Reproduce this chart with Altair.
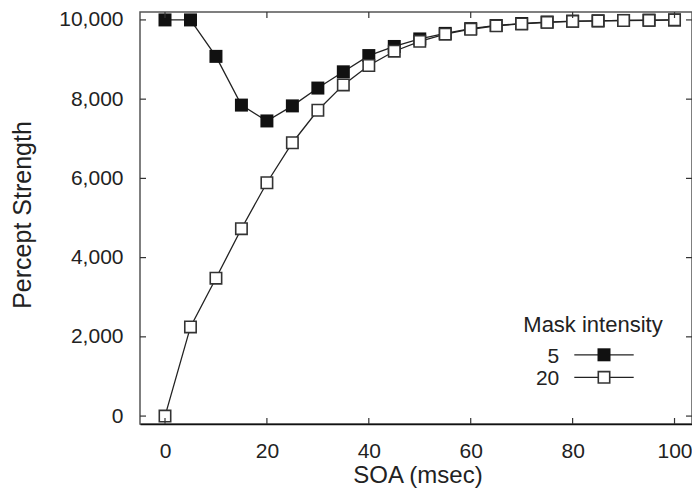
import altair as alt
import pandas as pd

# ---- data ----
soa = [0, 5, 10, 15, 20, 25, 30, 35, 40, 45, 50, 55, 60, 65, 70, 75, 80, 85, 90, 95, 100]
mask5 = [10000, 10000, 9080, 7850, 7450, 7830, 8280, 8690, 9100, 9330, 9520, 9660,
         9780, 9860, 9910, 9945, 9968, 9978, 9987, 9992, 10000]
mask20 = [0, 2250, 3480, 4730, 5890, 6900, 7720, 8360, 8850, 9210, 9460, 9640,
          9765, 9850, 9900, 9940, 9965, 9975, 9985, 9990, 10000]

x_ticks = [0, 20, 40, 60, 80, 100]
y_ticks = [0, 2000, 4000, 6000, 8000, 10000]

legend_title = "Mask intensity"
legend_labels = ["5", "20"]
legend_fills = ["#111111", "#ffffff"]
legend_strokes = ["#111111", "#333333"]

FONT = "Liberation Sans"
W, H = 552, 412

xs = alt.Scale(domain=[-4.907, 103.43], nice=False, zero=False)
ys = alt.Scale(domain=[-200, 10200], nice=False, zero=False)

x_axis = alt.Axis(values=x_ticks, title="SOA (msec)", grid=False, ticks=False, tickSize=0,
                  labelFont=FONT, labelFontSize=21, labelColor="#222", labelPadding=33,
                  labelBaseline="alphabetic", labelFlush=False, labelOverlap=False,
                  domain=True, domainColor="#111", domainWidth=1.5,
                  titleFont=FONT, titleFontSize=24, titleFontWeight="normal", titleColor="#222",
                  titleX=277.5, titleY=58.5, titleBaseline="alphabetic")
y_axis = alt.Axis(values=y_ticks, format=",d", title="Percept Strength", grid=False,
                  ticks=False, tickSize=0, domain=False,
                  labelFont=FONT, labelFontSize=21, labelColor="#222", labelPadding=17,
                  labelOverlap=False,
                  titleFont=FONT, titleFontSize=25, titleFontWeight="normal", titleColor="#222",
                  titleX=-109.5, titleY=202.5, titleAngle=270, titleBaseline="alphabetic")

df5 = pd.DataFrame({"soa": soa, "v": mask5})
df20 = pd.DataFrame({"soa": soa, "v": mask20})

base_axes = alt.Chart(df5).mark_line(color="#222", strokeWidth=1.3).encode(
    x=alt.X("soa:Q", scale=xs, axis=x_axis),
    y=alt.Y("v:Q", scale=ys, axis=y_axis),
)
pts5 = alt.Chart(df5).mark_point(shape="square", filled=True, size=169, color="#111",
                                 opacity=1).encode(
    x=alt.X("soa:Q", scale=xs), y=alt.Y("v:Q", scale=ys))
line20 = alt.Chart(df20).mark_line(color="#222", strokeWidth=1.3).encode(
    x=alt.X("soa:Q", scale=xs), y=alt.Y("v:Q", scale=ys))
pts20 = alt.Chart(df20).mark_point(shape="square", filled=True, size=130, fill="white",
                                   stroke="#333", strokeWidth=1.6, opacity=1).encode(
    x=alt.X("soa:Q", scale=xs), y=alt.Y("v:Q", scale=ys))

# inward ticks on all four sides
xt = pd.DataFrame({"t": x_ticks})
yt = pd.DataFrame({"t": y_ticks})
tick_style = dict(color="#333", strokeWidth=1.2)
t_bottom = alt.Chart(xt).mark_rule(**tick_style).encode(
    x=alt.X("t:Q", scale=xs), y=alt.value(H), y2=alt.value(H - 6))
t_top = alt.Chart(xt).mark_rule(**tick_style).encode(
    x=alt.X("t:Q", scale=xs), y=alt.value(0), y2=alt.value(6))
t_left = alt.Chart(yt).mark_rule(**tick_style).encode(
    y=alt.Y("t:Q", scale=ys), x=alt.value(0), x2=alt.value(6))
t_right = alt.Chart(yt).mark_rule(**tick_style).encode(
    y=alt.Y("t:Q", scale=ys), x=alt.value(W), x2=alt.value(W - 6))

# legend (drawn as a guide in pixel space)
leg = [alt.Chart(pd.DataFrame({"t": [legend_title]})).mark_text(
    font=FONT, fontSize=22, color="#222", align="left", baseline="alphabetic").encode(
    text="t:N", x=alt.value(383.3), y=alt.value(320.4))]
for i, (lab, f, s) in enumerate(zip(legend_labels, legend_fills, legend_strokes)):
    cy = 342.8 + i * 22.5
    one = pd.DataFrame({"t": [lab]})
    leg.append(alt.Chart(one).mark_text(font=FONT, fontSize=21, color="#222", align="right",
                                        baseline="alphabetic").encode(
        text="t:N", x=alt.value(419.3), y=alt.value(cy + 8)))
    leg.append(alt.Chart(one).mark_rule(color="#222", strokeWidth=1.3).encode(
        x=alt.value(434.3), x2=alt.value(493.7), y=alt.value(cy)))
    leg.append(alt.Chart(one).mark_point(shape="square", filled=True,
                                         size=169 if i == 0 else 130, fill=f, stroke=s,
                                         strokeWidth=0 if i == 0 else 1.6, opacity=1).encode(
        x=alt.value(464), y=alt.value(cy)))

chart = alt.layer(base_axes, pts5, line20, pts20, t_bottom, t_top, t_left, t_right, *leg).properties(
    width=W, height=H,
    autosize=alt.AutoSizeParams(type="none"),
    padding={"left": 132, "top": 4, "right": 0, "bottom": 64},
    background="white",
).configure_view(stroke="#555", strokeWidth=1.5)

chart.save("out.html", embed_options={"renderer": "svg", "actions": False})
